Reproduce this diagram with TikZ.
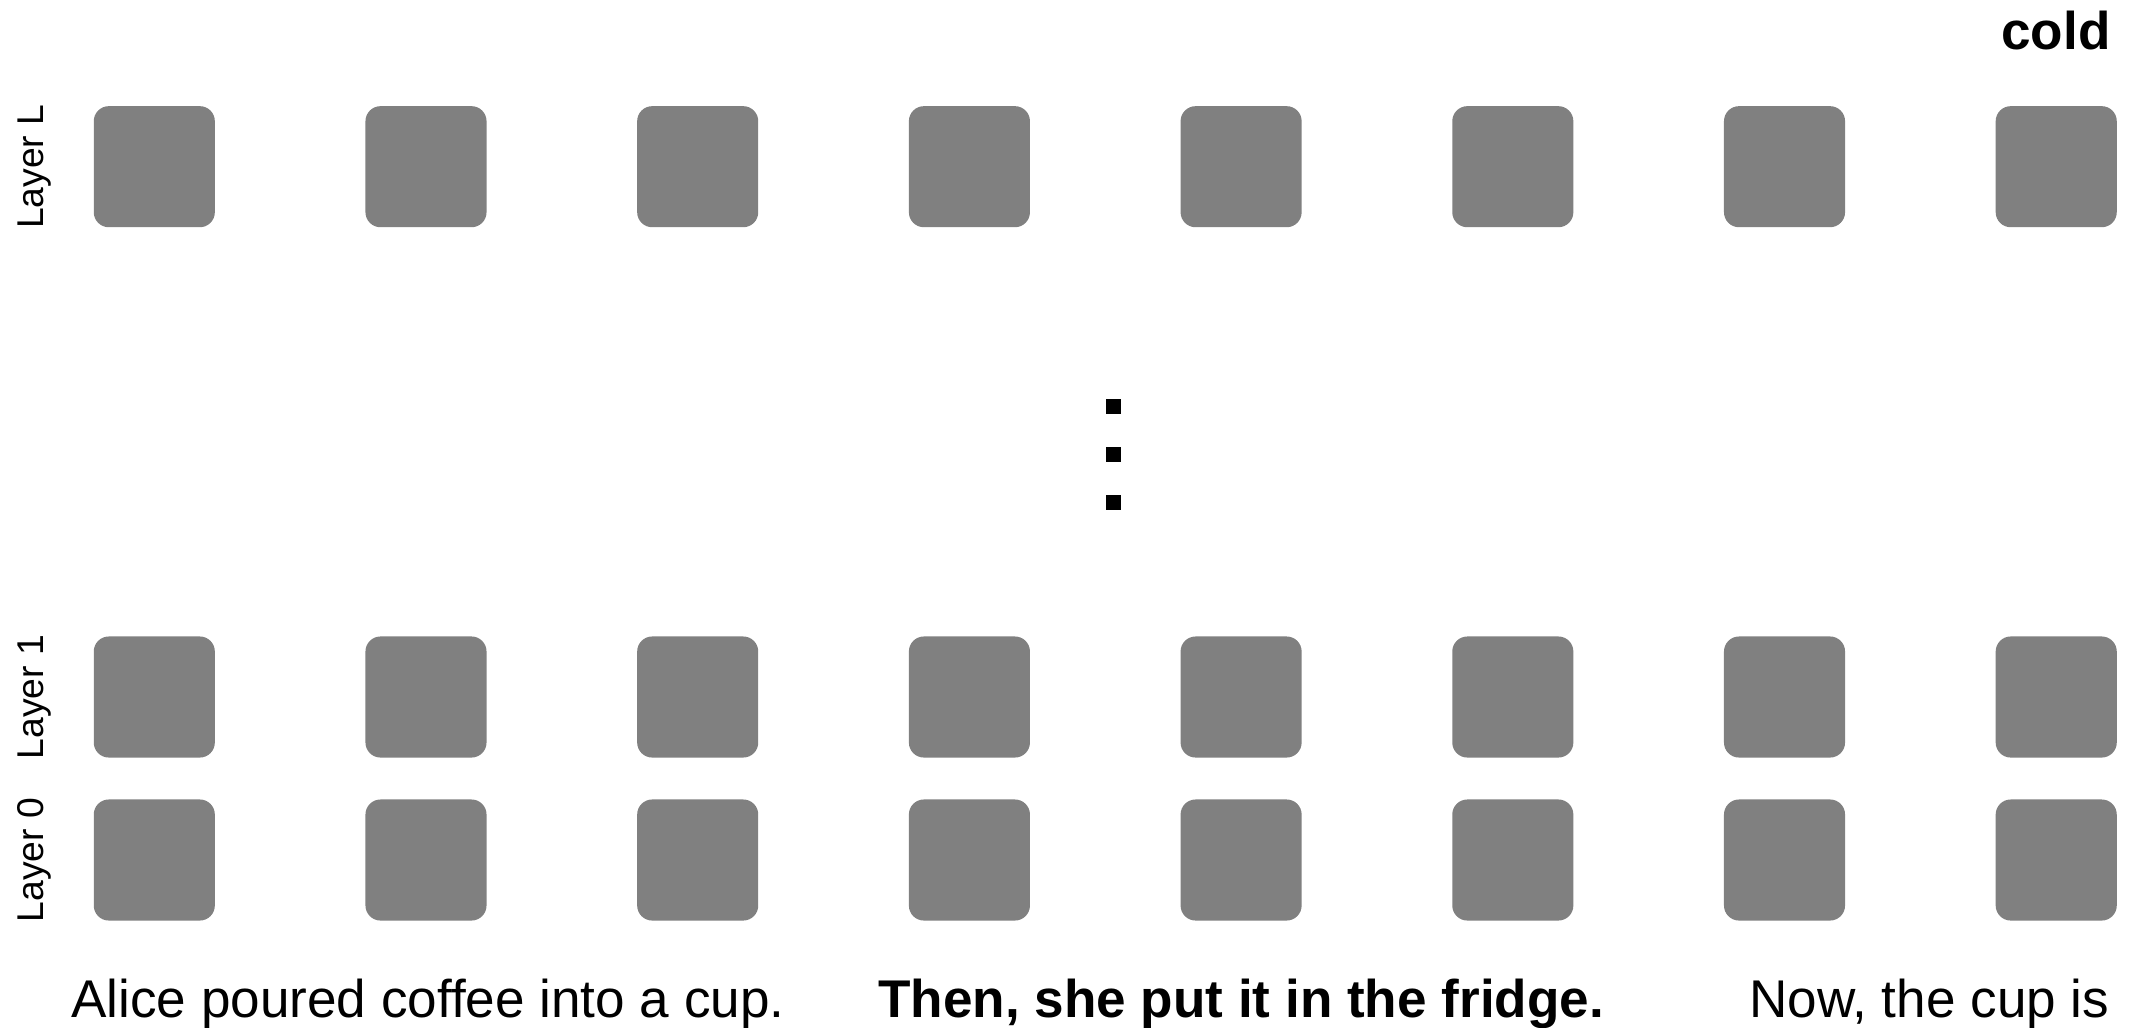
\documentclass[tikz,border=0pt]{standalone}
\usepackage{fontspec}
\setmainfont{Liberation Sans}
\usetikzlibrary{positioning}
\definecolor{tokengray}{RGB}{128,128,128}

\begin{document}
\begin{tikzpicture}[
  x=0.01cm, y=-0.01cm,
  token/.style={
    rectangle, fill=tokengray, rounded corners=0.15cm,
    minimum width=1.21cm, minimum height=1.21cm, inner sep=0pt
  },
  vdot/.style={rectangle, fill=black, minimum size=0.15cm, inner sep=0pt},
  layerlabel/.style={rotate=90, anchor=base, inner sep=0pt,
    font=\fontsize{10.6}{12}\selectfont},
  sentence/.style={anchor=base, inner sep=0pt,
    font=\fontsize{15.1}{18}\selectfont},
  boldsentence/.style={sentence, font=\fontsize{15.1}{18}\selectfont\bfseries}
]
  \useasboundingbox (0,0) rectangle (2131,1027);

  % token grid, one row per layer
  \foreach \row/\y in {L/166.7, 1/697, 0/860} {
    \node[layerlabel] (label-\row) at (43,\y) {Layer \row};
    \foreach \k in {0,...,7}
      \node[token] (tok-\row-\k) at ({154.3+271.7*\k},\y) {};
  }

  % vertical ellipsis between layer 1 and layer L
  \foreach \i/\y in {1/406, 2/454, 3/502}
    \node[vdot] (dot-\i) at (1113,\y) {};

  % input sentence and prediction
  \node[sentence]               (sent-a) at (428,1017)  {Alice poured coffee into a cup.};
  \node[boldsentence]           (sent-b) at (1241,1017) {Then, she put it in the fridge.};
  \node[sentence, anchor=base east] (sent-c) at (2110,1017) {Now, the cup is};
  \node[boldsentence]           (pred)   at (2056,49)   {cold};
\end{tikzpicture}
\end{document}
